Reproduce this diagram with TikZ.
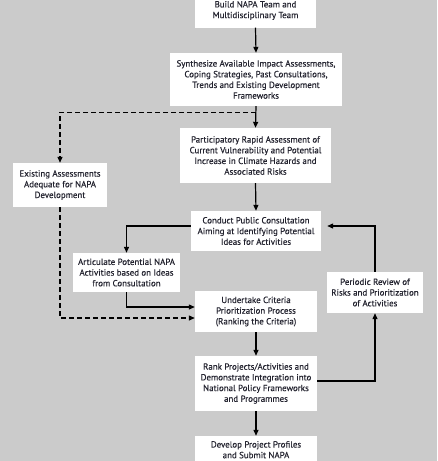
\documentclass[tikz,border=0pt]{standalone}
\usepackage{fontspec}
\setmainfont[FakeBold=0.35]{PT Sans}
\usetikzlibrary{arrows.meta,calc}
\definecolor{bg}{HTML}{CBCBCB}
\definecolor{txt}{HTML}{23232F}
\begin{document}
\begin{tikzpicture}[x=1pt,y=-1pt,
  box/.style={draw=none,fill=white,inner sep=0pt,align=center,text=txt,
    font=\fontsize{8.9}{10.7}\selectfont},
  conn/.style={line width=1.2pt,-{Triangle[length=6pt,width=5pt]}},
  dconn/.style={conn,dash pattern=on 5pt off 3pt}]
\useasboundingbox (0,0) rectangle (437,461);
\clip (0,0) rectangle (437,461);
\fill[bg] (0,0) rectangle (437,461);
\node[box,minimum width=121pt,minimum height=34pt] (b1) at (255.5,10.5) {Build NAPA Team and\\Multidisciplinary Team};
\node[box,minimum width=172pt,minimum height=53pt] (b2) at (256,79.5) {Synthesize Available Impact Assessments,\\Coping Strategies, Past Consultations,\\Trends and Existing Development\\Frameworks};
\node[box,minimum width=151pt,minimum height=55pt] (b3) at (255.5,155.5) {Participatory Rapid Assessment of\\Current Vulnerability and Potential\\Increase in Climate Hazards and\\Associated Risks};
\node[box,minimum width=94pt,minimum height=44pt] (b4) at (60,185) {Existing Assessments\\Adequate for NAPA\\Development};
\node[box,minimum width=130pt,minimum height=40pt] (b5) at (256,231) {Conduct Public Consultation\\Aiming at Identifying Potential\\Ideas for Activities};
\node[box,minimum width=107pt,minimum height=39pt] (b6) at (126.5,272.5) {Articulate Potential NAPA\\Activities based on Ideas\\from Consultation};
\node[box,minimum width=122pt,minimum height=41pt] (b7) at (256,311.5) {Undertake Criteria\\Prioritization Process\\(Ranking the Criteria)};
\node[box,minimum width=96pt,minimum height=41pt] (b8) at (375,292.5) {Periodic Review of\\Risks and Prioritization\\of Activities};
\node[box,minimum width=122pt,minimum height=55pt] (b9) at (256,383.5) {Rank Projects/Activities and\\Demonstrate Integration into\\National Policy Frameworks\\and Programmes};
\node[box,minimum width=122pt,minimum height=50pt] (b10) at (256,461) {};
\node[txt,font=\fontsize{8.9}{10.7}\selectfont,align=center,anchor=north,inner sep=0pt] (b10t) at (256,441) {Develop Project Profiles\\and Submit NAPA};
\coordinate (split) at ($(b2.south)+(0,6)$);
\draw[conn] (b1.south) -- (b2.north);
\draw[conn] (b2.south) -- (b3.north);
\draw[dconn] (split) -| (b4.north);
\draw[conn] (b3.south) -- (b5.north);
\draw[conn] ([yshift=5pt]b5.west) -| (b6.north);
\draw[conn] (b6.south) |- ([yshift=4.5pt]b7.west);
\draw[dconn] (b4.south) |- ([yshift=-6.5pt]b7.west);
\draw[conn] (b7.south) -- (b9.north);
\draw[conn] ([yshift=2.5pt]b9.east) -| (b8.south);
\draw[conn,shorten >=6pt] (b8.north) |- ([yshift=5pt]b5.east);
\draw[conn] (b9.south) -- (b10.north);
\end{tikzpicture}
\end{document}
